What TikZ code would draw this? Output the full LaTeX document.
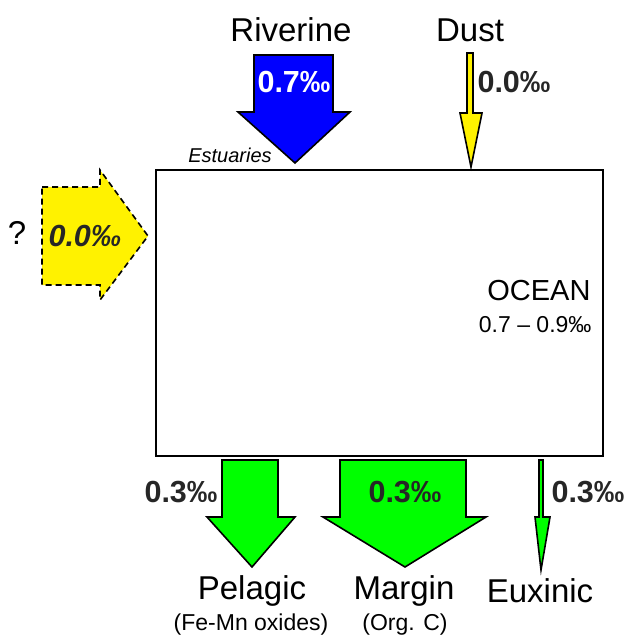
\documentclass[tikz,border=0pt]{standalone}
\usepackage{fontspec}
\setmainfont{Liberation Sans}
\begin{document}
\begin{tikzpicture}[x=1pt,y=-1pt,
  flux/.style={draw=black,line width=1.6pt,line join=miter},
  big/.style={font=\fontsize{33}{38}\selectfont},
  sub/.style={font=\fontsize{23}{28}\selectfont},
  val/.style={font=\fontsize{30.5}{35}\selectfont\bfseries,text=black!85}]
\useasboundingbox (0,0) rectangle (624,636);

% ocean reservoir
\node[draw,line width=1.6pt,minimum width=447pt,minimum height=286pt,inner sep=0pt,anchor=north west] (ocean) at (155,169) {};
\node[font=\fontsize{29}{34}\selectfont,anchor=base east] (oceanlbl) at (594,300) {OCEAN};
\node[sub,anchor=base east] (oceanval) at (595,332) {0.7 -- 0.9‰};

% riverine input
\draw[flux,fill=blue] (254,55) -- (333,55) -- (333,112) -- (350,112) -- (295,163) -- (238,112) -- (254,112) -- cycle;
\node[big] (riv) at (291,30) {Riverine};
\node[val,text=white] (rivval) at (294,82) {0.7‰};
\node[font=\fontsize{20}{24}\selectfont\itshape] (est) at (230,155) {Estuaries};

% dust input
\draw[flux,fill=yellow] (467,53) -- (473,53) -- (473,113) -- (482,113) -- (471,167) -- (460,113) -- (467,113) -- cycle;
\node[big] (dust) at (470,30) {Dust};
\node[val,anchor=west] (dustval) at (474,82) {0.0‰};

% unknown lateral input
\draw[flux,fill=yellow,dash pattern=on 6pt off 4pt] (42,187) -- (100,187) -- (100,170) -- (148,236) -- (100,300) -- (100,285) -- (42,285) -- cycle;
\node[val,font=\fontsize{30.5}{35}\selectfont\bfseries\itshape] (latval) at (85,236) {0.0‰};
\node[big] (q) at (17,233) {?};

% pelagic output
\draw[flux,fill=green] (222,460) -- (278,460) -- (278,517) -- (295,517) -- (252,567) -- (207,517) -- (222,517) -- cycle;
\node[val] (pelval) at (181,492) {0.3‰};
\node[big] (pel) at (252,591) {Pelagic};
\node[sub] (pelsub) at (251,625) {(Fe-Mn oxides)};

% margin output
\draw[flux,fill=green] (340,460) -- (466,460) -- (466,517) -- (486,517) -- (405,567) -- (323,517) -- (340,517) -- cycle;
\node[val] (marval) at (405,492) {0.3‰};
\node[big] (mar) at (404,591) {Margin};
\node[sub] (marsub) at (405,625) {(Org. C)};

% euxinic output
\draw[flux,fill=green] (539,460) -- (543,460) -- (543,517) -- (550,517) -- (541,570) -- (535,517) -- (539,517) -- cycle;
\node[val,anchor=west] (euxval) at (548,492) {0.3‰};
\node[big] (eux) at (540,591) {Euxinic};
\end{tikzpicture}
\end{document}
